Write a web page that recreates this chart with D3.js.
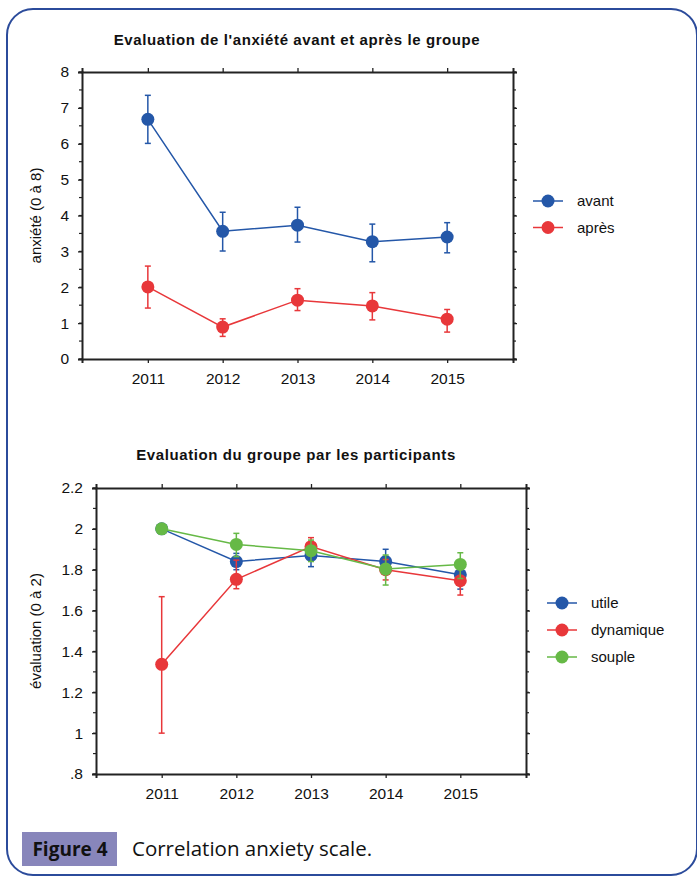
<!DOCTYPE html>
<html><head><meta charset="utf-8">
<script src="https://cdn.jsdelivr.net/npm/d3@7"></script>
<style>body{margin:0;background:#fff}svg{display:block}</style>
</head><body>
<svg id="c" width="697" height="877"></svg>
<script>
// ---- data ----
const years = [2011, 2012, 2013, 2014, 2015];

const title1 = "Evaluation de l'anxiété avant et après le groupe";
const yLabel1 = "anxiété (0 à 8)";
const yTicks1 = [0,1,2,3,4,5,6,7,8];
const avant      = [6.68, 3.56, 3.73, 3.27, 3.40];
const avantLow   = [6.01, 3.01, 3.26, 2.71, 2.96];
const avantHigh  = [7.35, 4.09, 4.23, 3.76, 3.80];
const apres      = [2.01, 0.89, 1.64, 1.48, 1.11];
const apresLow   = [1.42, 0.63, 1.35, 1.09, 0.75];
const apresHigh  = [2.59, 1.12, 1.96, 1.85, 1.38];

const title2 = "Evaluation du groupe par les participants";
const yLabel2 = "évaluation (0 à 2)";
const yTicks2 = [0.8,1,1.2,1.4,1.6,1.8,2,2.2];
const yTickLabels2 = [".8","1","1.2","1.4","1.6","1.8","2","2.2"];
const utile          = [2.00, 1.84, 1.87, 1.84, 1.775];
const utileLow       = [null, 1.80, 1.815, 1.785, 1.705];
const utileHigh      = [null, 1.88, 1.93, 1.90, 1.845];
const dynamique      = [1.337, 1.753, 1.913, 1.80, 1.746];
const dynamiqueLow   = [1.00, 1.707, 1.87, 1.75, 1.676];
const dynamiqueHigh  = [1.668, 1.847, 1.957, 1.85, 1.81];
const souple         = [2.00, 1.924, 1.893, 1.803, 1.826];
const soupleLow      = [null, 1.864, 1.84, 1.725, 1.757];
const soupleHigh     = [null, 1.978, 1.945, 1.872, 1.883];

const caption = "Correlation anxiety scale.";
const figLabel = "Figure 4";

const BLUE = "#2457a8", RED = "#e8373a", GREEN = "#66b946";
const FONT = "'Liberation Sans', Arial, sans-serif";
const svg = d3.select("#c");

// frame
svg.append("rect").attr("x",7).attr("y",9).attr("width",690).attr("height",866)
  .attr("rx",26).attr("fill","none").attr("stroke","#2b4b9b").attr("stroke-width",2);

function chart(o){
  const g = svg.append("g");
  const x = d3.scaleLinear().domain([2010.12, 2015.88]).range([o.left, o.right]);
  const y = d3.scaleLinear().domain(o.yDomain).range([o.bottom, o.top]);
  const ink = "#222";
  const minor = d3.range(o.yDomain[0], o.yDomain[1]+1e-9, o.minorStep);
  const left = d3.axisLeft(y).tickValues(o.yTicks).tickSize(4).tickPadding(9).tickFormat(o.yFmt);
  const la = g.append("g").attr("transform",`translate(${o.left},0)`).call(left);
  const right = d3.axisRight(y).tickValues(o.yTicks).tickSize(4).tickFormat("");
  const ra = g.append("g").attr("transform",`translate(${o.right},0)`).call(right);
  const bottom = d3.axisBottom(x).tickValues(years).tickSize(4).tickPadding(10).tickFormat(d3.format("d"));
  const ba = g.append("g").attr("transform",`translate(0,${o.bottom})`).call(bottom);
  const top = d3.axisTop(x).tickValues(years).tickSize(4).tickFormat("");
  const ta = g.append("g").attr("transform",`translate(0,${o.top})`).call(top);
  [la,ra,ba,ta].forEach(a=>{
    a.attr("font-family",null).attr("font-size",null);
    a.select(".domain").attr("stroke",ink).attr("stroke-width",2);
    a.selectAll(".tick line").attr("stroke",ink).attr("stroke-width",1.3);
    a.selectAll("text").attr("fill","#111").style("font-family",FONT).style("font-size","15.5px");
  });
  g.append("g").selectAll("line").data(minor).join("line")
    .attr("x1",o.left-3).attr("x2",o.left).attr("y1",d=>y(d)).attr("y2",d=>y(d)).attr("stroke",ink).attr("stroke-width",1.2);
  g.append("g").selectAll("line").data(minor).join("line")
    .attr("x1",o.right).attr("x2",o.right+3).attr("y1",d=>y(d)).attr("y2",d=>y(d)).attr("stroke",ink).attr("stroke-width",1.2);

  g.append("text").attr("x",o.titleX).attr("y",o.titleY).attr("text-anchor","middle")
    .style("font-family",FONT).style("font-weight","bold").style("font-size","15px")
    .style("letter-spacing","0.6px").attr("fill","#111").text(o.title);
  g.append("text").attr("transform",`translate(${o.yLabelX},${(o.top+o.bottom)/2}) rotate(-90)`)
    .attr("text-anchor","middle").style("font-family",FONT).style("font-size","15px")
    .attr("fill","#111").text(o.yLabel);

  o.series.forEach(s=>{
    const sg = g.append("g");
    const idx = years.map((d,i)=>i);
    const eb = idx.filter(i=>s.low[i]!=null);
    sg.selectAll("line.eb").data(eb).join("line").attr("class","eb")
      .attr("x1",i=>x(years[i])).attr("x2",i=>x(years[i])).attr("y1",i=>y(s.low[i])).attr("y2",i=>y(s.high[i]))
      .attr("stroke",s.color).attr("stroke-width",1.5);
    ["low","high"].forEach(k=>{
      sg.selectAll("line.c"+k).data(eb).join("line").attr("class","c"+k)
        .attr("x1",i=>x(years[i])-3).attr("x2",i=>x(years[i])+3).attr("y1",i=>y(s[k][i])).attr("y2",i=>y(s[k][i]))
        .attr("stroke",s.color).attr("stroke-width",1.5);
    });
    sg.append("path").datum(idx).attr("fill","none").attr("stroke",s.color).attr("stroke-width",1.5)
      .attr("d",d3.line().x(i=>x(years[i])).y(i=>y(s.values[i])));
    sg.selectAll("circle").data(idx).join("circle")
      .attr("cx",i=>x(years[i])).attr("cy",i=>y(s.values[i])).attr("r",6.5).attr("fill",s.color);
  });

  const lg = g.append("g");
  o.series.forEach((s,k)=>{
    const ly = o.legY + k*o.legGap;
    lg.append("line").attr("x1",o.legX).attr("x2",o.legX+30).attr("y1",ly).attr("y2",ly).attr("stroke",s.color).attr("stroke-width",1.5);
    lg.append("circle").attr("cx",o.legX+15).attr("cy",ly).attr("r",6.5).attr("fill",s.color);
    lg.append("text").attr("x",o.legX+44).attr("y",ly+5).style("font-family",FONT)
      .style("font-size","15px").attr("fill","#111").text(s.name);
  });
}

chart({left:82,right:513,top:72,bottom:359,yDomain:[0,8],yTicks:yTicks1,minorStep:0.5,yFmt:d3.format("d"),
  title:title1,titleX:297,titleY:45,yLabel:yLabel1,yLabelX:41,legX:533,legY:201,legGap:26.5,
  series:[{name:"avant",values:avant,low:avantLow,high:avantHigh,color:BLUE},
          {name:"après",values:apres,low:apresLow,high:apresHigh,color:RED}]});

chart({left:96,right:526,top:488,bottom:774,yDomain:[0.8,2.2],yTicks:yTicks2,minorStep:0.1,
  yFmt:(d,i)=>yTickLabels2[i],
  title:title2,titleX:296,titleY:460,yLabel:yLabel2,yLabelX:41,legX:547,legY:603,legGap:27,
  series:[{name:"utile",values:utile,low:utileLow,high:utileHigh,color:BLUE},
          {name:"dynamique",values:dynamique,low:dynamiqueLow,high:dynamiqueHigh,color:RED},
          {name:"souple",values:souple,low:soupleLow,high:soupleHigh,color:GREEN}]});

svg.append("rect").attr("x",22).attr("y",832).attr("width",95).attr("height",34).attr("fill","#8886bb");
svg.append("text").attr("x",70).attr("y",856).attr("text-anchor","middle")
  .style("font-family","'Open Sans', Lato, sans-serif").style("font-weight","bold").style("font-size","19px")
  .attr("fill","#111").text(figLabel);
svg.append("text").attr("x",132).attr("y",856)
  .style("font-family","'Open Sans', Lato, sans-serif").style("font-size","20.5px")
  .attr("fill","#111").text(caption);
</script>
</body></html>
